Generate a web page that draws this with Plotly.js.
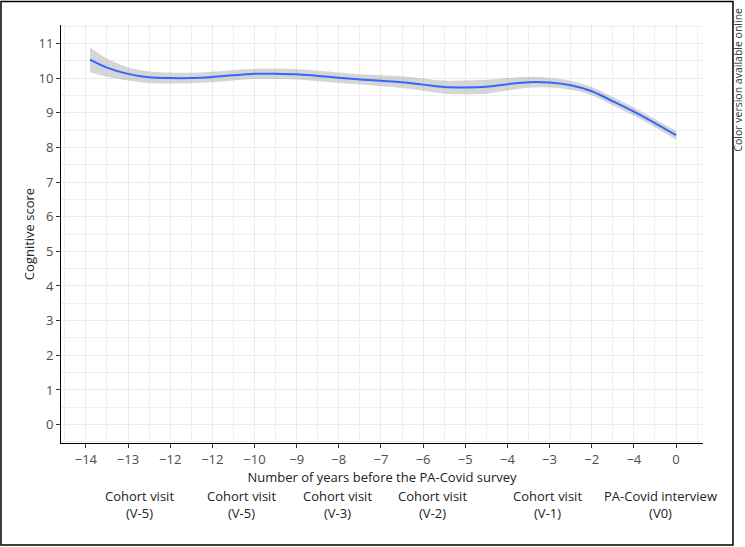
<!DOCTYPE html>
<html>
<head>
<meta charset="utf-8">
<script src="https://cdn.plot.ly/plotly-3.0.1.min.js"></script>
<style>
  body { margin: 0; background: #fff; }
  #chart { width: 745px; height: 547px; }
</style>
</head>
<body>
<div id="chart"></div>
<script>
// smoothed cognitive score by years before the PA-Covid survey
const years = [-13.9, -13.5, -13, -12.5, -12, -11.5, -11, -10.5, -10, -9.5, -9, -8.5, -8, -7.5, -7,
    -6.5, -6, -5.5, -5, -4.5, -4, -3.5, -3, -2.5, -2, -1.5, -1, -0.5, 0];
const score = [10.53, 10.30, 10.12, 10.02, 10.00, 10.00, 10.03, 10.08, 10.12, 10.12, 10.11, 10.06, 10.01, 9.96, 9.92,
    9.88, 9.81, 9.74, 9.73, 9.75, 9.82, 9.88, 9.87, 9.79, 9.62, 9.33, 9.03, 8.70, 8.35];
const upper = [10.89, 10.56, 10.31, 10.19, 10.16, 10.15, 10.18, 10.23, 10.27, 10.27, 10.26, 10.21, 10.16, 10.11, 10.08,
    10.05, 9.99, 9.93, 9.93, 9.95, 10.00, 10.04, 10.01, 9.92, 9.74, 9.45, 9.15, 8.82, 8.48];
const lower = [10.17, 10.04, 9.93, 9.85, 9.84, 9.85, 9.88, 9.93, 9.97, 9.97, 9.96, 9.91, 9.86, 9.81, 9.76,
    9.71, 9.63, 9.55, 9.53, 9.55, 9.64, 9.72, 9.73, 9.66, 9.50, 9.21, 8.91, 8.58, 8.22];

// x tick labels as printed in the figure
const xTickVals = [-14, -13, -12, -11, -10, -9, -8, -7, -6, -5, -4, -3, -2, -1, 0];
const xTickText = ['\u221214', '\u221213', '\u221212', '\u221212', '\u221210', '\u22129', '\u22128', '\u22127',
    '\u22126', '\u22125', '\u22124', '\u22123', '\u22122', '\u22124', '0'];

// visit labels under the axis
const visitX = [-12.72, -10.3, -8.04, -5.77, -3.06, -0.36];
const visitLabels = ['Cohort visit<br>(V-5)', 'Cohort visit<br>(V-5)', 'Cohort visit<br>(V-3)',
    'Cohort visit<br>(V-2)', 'Cohort visit<br>(V-1)', 'PA-Covid interview<br>(V0)'];

const FONT = '"Open Sans", "Noto Sans", sans-serif';

const traces = [
    {
        x: years, y: lower,
        type: 'scatter', mode: 'lines',
        line: { width: 0, shape: 'spline' },
        hoverinfo: 'skip', showlegend: false,
    },
    {
        x: years, y: upper,
        type: 'scatter', mode: 'lines',
        fill: 'tonexty',
        fillcolor: 'rgba(153,153,153,0.4)',
        line: { width: 0, shape: 'spline' },
        hoverinfo: 'skip', showlegend: false,
    },
    {
        x: years, y: score,
        type: 'scatter', mode: 'lines',
        line: { color: '#3366FF', width: 2, shape: 'spline' },
        showlegend: false,
    },
];

const annotations = visitX.map((x, i) => ({
    x: x, xref: 'x',
    y: -0.148, yref: 'paper',
    xanchor: 'center', yanchor: 'middle',
    text: visitLabels[i],
    showarrow: false,
    font: { family: FONT, size: 13, color: '#222' },
    align: 'center',
}));

annotations.push({
    x: 1.055, xref: 'paper',
    y: 0.87, yref: 'paper',
    xanchor: 'center', yanchor: 'middle',
    text: 'Color version available online',
    textangle: -90,
    showarrow: false,
    font: { family: FONT, size: 10.5, color: '#333' },
});

const layout = {
    width: 745,
    height: 547,
    margin: { l: 61, r: 42, t: 25, b: 104 },
    paper_bgcolor: '#fff',
    plot_bgcolor: '#fff',
    showlegend: false,
    font: { family: FONT, color: '#4d4d4d' },
    xaxis: {
        range: [-14.59, 0.64],
        tickmode: 'array',
        tickvals: xTickVals,
        ticktext: xTickText,
        ticks: 'outside', ticklen: 4, tickcolor: '#333',
        tickfont: { family: FONT, size: 13, color: '#4d4d4d' },
        showline: true, linecolor: '#000', linewidth: 1,
        showgrid: true, gridcolor: '#ebebeb', gridwidth: 1,
        minor: { tick0: 0, dtick: 0.5, showgrid: true, gridcolor: '#efefef', gridwidth: 1 },
        zeroline: false,
        title: { text: 'Number of years before the PA-Covid survey', standoff: 3,
            font: { family: FONT, size: 13, color: '#222' } },
    },
    yaxis: {
        range: [-0.53, 11.53],
        tickmode: 'linear', tick0: 0, dtick: 1,
        ticks: 'outside', ticklen: 4, tickcolor: '#333',
        tickfont: { family: FONT, size: 13, color: '#4d4d4d' },
        showline: true, linecolor: '#000', linewidth: 1,
        showgrid: true, gridcolor: '#ebebeb', gridwidth: 1,
        minor: { tick0: 0, dtick: 0.5, showgrid: true, gridcolor: '#efefef', gridwidth: 1 },
        zeroline: false,
        title: { text: 'Cognitive score', standoff: 0,
            font: { family: FONT, size: 13, color: '#222' } },
    },
    annotations: annotations,
    shapes: [{
        type: 'rect', xref: 'paper', yref: 'paper',
        x0: -0.0935, x1: 1.0467, y0: -0.244, y1: 1.056,
        line: { color: '#000', width: 1.5 },
        layer: 'above',
    }],
};

Plotly.newPlot('chart', traces, layout, { displayModeBar: false, staticPlot: true });
</script>
</body>
</html>
